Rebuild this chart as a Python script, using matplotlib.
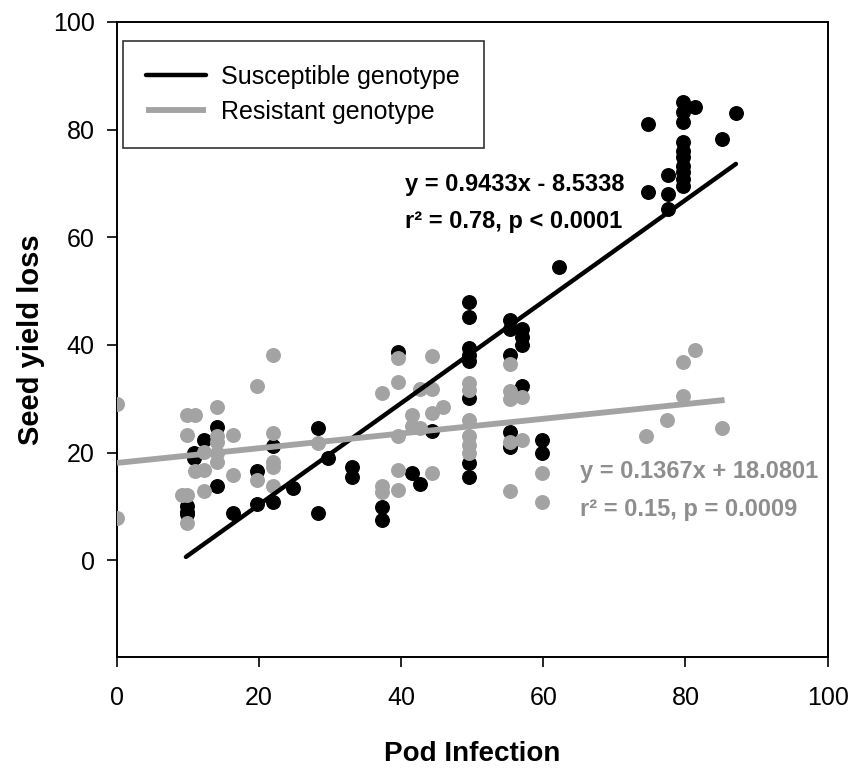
import numpy as np
import matplotlib
matplotlib.use("Agg")
import matplotlib.pyplot as plt

plt.rcParams['font.family'] = ['Liberation Sans', 'DejaVu Sans']

# =========================
# Data
# =========================
sus_x = [9.9, 9.9, 9.9, 10.8, 10.8, 12.2, 14.1, 14.1, 16.3, 19.7, 19.7, 21.9, 21.9,
         24.8, 28.3, 28.3, 29.7, 33.1, 33.1, 37.3, 37.3, 39.6, 41.5, 42.6, 44.3,
         49.6, 49.6, 49.6, 49.6, 49.6, 49.6, 49.6, 49.6,
         55.3, 55.3, 55.3, 55.3, 55.3, 57.0, 57.0, 57.0, 57.0, 59.8, 59.8, 62.2,
         74.7, 74.7, 77.5, 77.5, 77.5,
         79.6, 79.6, 79.6, 79.6, 79.6, 79.6, 79.6, 79.6, 79.6, 79.6,
         81.4, 85.2, 87.1]
sus_y = [10.0, 9.0, 8.5, 20.0, 19.0, 22.4, 24.7, 13.7, 8.8, 16.5, 10.5, 21.3, 10.9,
         13.5, 24.6, 8.8, 19.0, 17.4, 15.5, 9.8, 7.5, 38.6, 16.3, 14.1, 24.0,
         47.9, 45.1, 39.5, 38.2, 37.0, 30.2, 18.1, 15.5,
         44.7, 42.9, 38.2, 23.9, 21.1, 42.9, 41.4, 40.0, 32.3, 22.4, 20.0, 54.4,
         81.0, 68.4, 71.5, 68.0, 65.2,
         85.1, 83.2, 81.5, 77.7, 76.0, 74.9, 73.2, 72.1, 70.8, 69.5,
         84.2, 78.2, 83.1]

res_x = [0.0, 0.0, 9.2, 9.9, 9.9, 9.9, 9.9, 11.0, 11.0, 12.2, 12.2, 12.2,
         14.1, 14.1, 14.1, 14.1, 14.1, 16.3, 16.3, 19.7, 19.7,
         21.9, 21.9, 21.9, 21.9, 21.9, 28.3, 37.3, 37.3, 37.3,
         39.6, 39.6, 39.6, 39.6, 39.6, 41.5, 41.5, 42.6, 42.6,
         44.3, 44.3, 44.3, 44.3, 45.9,
         49.6, 49.6, 49.6, 49.6, 49.6, 49.6,
         55.3, 55.3, 55.3, 55.3, 55.3, 57.0, 57.0, 59.8, 59.8,
         74.5, 77.4, 79.6, 79.6, 81.4, 85.2]
res_y = [29.0, 7.9, 12.2, 27.0, 23.3, 12.2, 7.0, 27.0, 16.5, 20.2, 16.8, 12.8,
         28.4, 23.0, 21.9, 20.0, 18.3, 23.3, 15.9, 32.3, 15.0,
         38.2, 23.7, 18.3, 17.4, 13.7, 21.8, 31.0, 13.7, 12.6,
         37.5, 33.2, 23.0, 16.8, 13.1, 27.0, 25.0, 31.9, 24.5,
         37.9, 31.9, 27.4, 16.3, 28.4,
         33.0, 31.7, 26.1, 23.0, 21.5, 20.0,
         36.4, 31.4, 29.9, 22.0, 12.8, 30.4, 22.4, 16.3, 10.9,
         23.0, 26.1, 30.5, 36.9, 39.0, 24.6]

# regression fits given on the figure
sus_slope, sus_icpt = 0.9433, -8.5338
res_slope, res_icpt = 0.1367, 18.0801
sus_range = [9.7, 87.1]
res_range = [0.0, 85.5]

grey_pts = '#a3a3a3'
grey_txt = '#8e8e8e'

# =========================
# Plot
# =========================
fig = plt.figure(figsize=(8.51, 7.74), dpi=100)
ax = fig.add_axes([0.1375, 0.151, 0.835, 0.8206])

ax.scatter(sus_x, sus_y, s=95, color='black', zorder=2)
ax.scatter(res_x, res_y, s=95, color=grey_pts, zorder=3)

xs = np.array(sus_range)
ax.plot(xs, sus_slope * xs + sus_icpt, color='black', linewidth=3.2,
        solid_capstyle='round', zorder=4, label='Susceptible genotype')
xr = np.array(res_range)
ax.plot(xr, res_slope * xr + res_icpt, color=grey_pts, linewidth=4.2,
        solid_capstyle='butt', zorder=4, label='Resistant genotype')

eq_fs = 17
ax.text(40.5, 69.8, 'y = 0.9433x - 8.5338', fontsize=eq_fs, fontweight='bold',
        va='center', ha='left')
ax.text(40.5, 63.0, 'r² = 0.78, p < 0.0001', fontsize=eq_fs, fontweight='bold',
        va='center', ha='left')
ax.text(65.2, 16.5, 'y = 0.1367x + 18.0801', fontsize=eq_fs, fontweight='bold',
        va='center', ha='left', color=grey_txt)
ax.text(65.2, 9.4, 'r² = 0.15, p = 0.0009', fontsize=eq_fs, fontweight='bold',
        va='center', ha='left', color=grey_txt)

ax.set_xlim(0, 100)
ax.set_ylim(-18, 100)
ax.set_xticks([0, 20, 40, 60, 80, 100])
ax.set_yticks([0, 20, 40, 60, 80, 100])
ax.tick_params(axis='both', direction='out', length=7, width=1.2,
               labelsize=18, pad=9)
ax.tick_params(axis='x', pad=14)
for sp in ax.spines.values():
    sp.set_linewidth(1.4)

ax.set_xlabel('Pod Infection', fontsize=20, fontweight='bold', labelpad=22)
ax.set_ylabel('Seed yield loss', fontsize=21, fontweight='bold', labelpad=6)

leg = ax.legend(loc='upper left', bbox_to_anchor=(0.008, 0.97), fontsize=18,
                frameon=True, fancybox=False, edgecolor='black',
                handlelength=2.4, labelspacing=0.45, borderpad=0.95,
                handletextpad=0.6, borderaxespad=0)
leg.get_frame().set_linewidth(1.2)

plt.savefig('out.png', dpi=100)
